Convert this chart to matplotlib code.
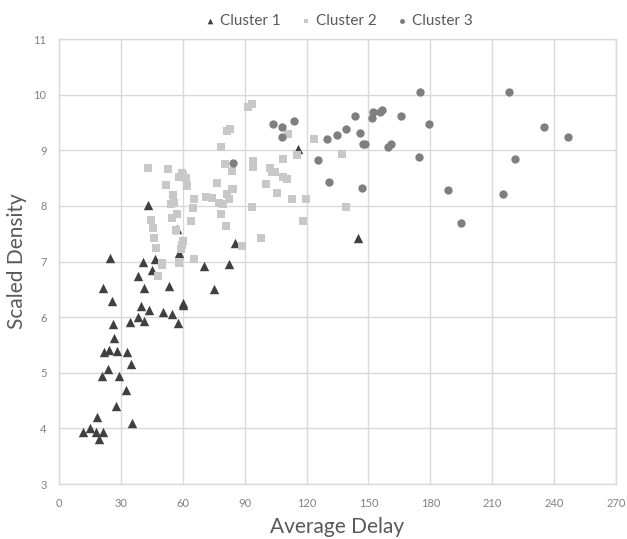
import numpy as np
import matplotlib
matplotlib.use('Agg')
import matplotlib.pyplot as plt

plt.rcParams['font.family'] = ['Lato', 'DejaVu Sans']

# cluster 1 (triangles)
c1_x = [24.7, 21.2, 25.5, 26.0, 26.8, 22.0, 24.4, 28.0, 32.8, 34.9, 23.6, 21.0, 29.1,
        32.5, 27.5, 18.3, 15.0, 11.8, 17.9, 21.2, 19.5, 35.2, 34.4, 38.1, 41.2, 39.9,
        43.6, 41.2, 38.4, 40.9, 44.9, 46.7, 43.3, 53.5, 50.6, 54.6, 60.0, 60.0, 57.5,
        58.3, 57.0, 70.5, 82.6, 75.3, 85.5, 116.0, 145.1]
c1_y = [7.06, 6.52, 6.29, 5.87, 5.62, 5.37, 5.41, 5.39, 5.38, 5.15, 5.06, 4.94, 4.95,
        4.69, 4.41, 4.20, 4.00, 3.93, 3.94, 3.93, 3.81, 4.09, 5.92, 6.00, 5.93, 6.20,
        6.12, 6.52, 6.74, 6.99, 6.85, 7.05, 8.01, 6.56, 6.09, 6.05, 6.26, 6.22, 5.90,
        7.16, 7.58, 6.92, 6.95, 6.50, 7.34, 9.03, 7.43]

# cluster 2 (squares)
c2_x = [43.3, 52.8, 59.5, 58.3, 61.6, 60.0, 51.7, 61.9, 76.4, 55.1, 55.9, 54.3, 65.6,
        65.1, 71.3, 74.0, 81.3, 84.0, 82.4, 77.7, 79.6, 78.5, 80.8, 57.0, 54.6, 64.0,
        44.6, 45.7, 56.7, 46.0, 60.3, 59.6, 59.0, 47.0, 50.1, 50.1, 58.2, 65.6, 47.8,
        88.7, 80.5, 84.0, 91.8, 93.7, 81.6, 82.9, 111.2, 123.6, 108.4, 115.2, 94.2,
        94.2, 102.3, 104.7, 103.1, 108.7, 110.4, 100.2, 137.0, 84.2, 105.8, 112.8,
        119.6, 93.7, 139.0, 118.4, 97.9, 78.5]
c2_y = [8.69, 8.66, 8.60, 8.52, 8.51, 8.55, 8.38, 8.36, 8.42, 8.19, 8.06, 8.03, 8.12,
        7.97, 8.16, 8.15, 8.22, 8.30, 8.13, 8.05, 8.03, 7.85, 7.64, 7.85, 7.79, 7.73,
        7.74, 7.61, 7.56, 7.43, 7.37, 7.30, 7.23, 7.25, 6.98, 6.93, 6.98, 7.04, 6.74,
        7.28, 8.76, 8.63, 9.78, 9.84, 9.35, 9.38, 9.30, 9.20, 8.84, 8.91, 8.81, 8.70,
        8.69, 8.61, 8.61, 8.52, 8.49, 8.39, 8.93, 8.31, 8.24, 8.12, 8.12, 7.98, 7.98,
        7.73, 7.43, 9.05]

# cluster 3 (circles)
c3_x = [103.9, 107.9, 114.1, 107.9, 84.2, 125.4, 129.8, 134.9, 139.0, 143.5, 145.9,
        147.2, 148.3, 151.6, 152.0, 155.6, 156.7, 159.6, 160.8, 165.6, 175.0, 174.7,
        130.9, 146.7, 179.4, 188.4, 194.7, 218.3, 235.2, 246.9, 221.0, 215.1]
c3_y = [9.48, 9.42, 9.53, 9.23, 8.78, 8.82, 9.20, 9.27, 9.39, 9.62, 9.31, 9.12, 9.12,
        9.58, 9.69, 9.69, 9.72, 9.06, 9.12, 9.62, 10.05, 8.88, 8.43, 8.33, 9.47, 8.28,
        7.70, 10.04, 9.42, 9.23, 8.85, 8.22]

fig = plt.figure(figsize=(6.27, 5.39), dpi=100)
ax = fig.add_axes([0.0941, 0.102, 0.8884, 0.8256])

ax.scatter(c1_x, c1_y, marker='^', s=46, color='#404040', label='Cluster 1', zorder=3, linewidths=0)
ax.scatter(c2_x, c2_y, marker='s', s=32, color='#c8c8c8', label='Cluster 2', zorder=3, linewidths=0)
ax.scatter(c3_x, c3_y, marker='o', s=36, color='#7f7f7f', label='Cluster 3', zorder=3, linewidths=0)

ax.set_xlim(0, 270)
ax.set_ylim(3, 11)
ax.set_xticks(np.arange(0, 271, 30))
ax.set_yticks(np.arange(3, 12, 1))
ax.grid(True, color='#d9d9d9', linewidth=1)
ax.set_axisbelow(True)
for s in ax.spines.values():
    s.set_color('#d9d9d9')
    s.set_linewidth(1)
ax.tick_params(length=0, labelsize=8, labelcolor='#808080')
ax.tick_params(axis='y', pad=9)
ax.tick_params(axis='x', pad=10)

ax.set_xlabel('Average Delay', fontsize=15, color='#595959', labelpad=5.5)
ax.set_ylabel('Scaled Density', fontsize=15, color='#595959', labelpad=5)

ax.legend(loc='center', bbox_to_anchor=(0.5, 1.04), ncol=3, frameon=False,
          fontsize=11, labelcolor='#595959', handletextpad=0.2, columnspacing=1.1,
          handlelength=1.0, markerscale=0.6)

fig.savefig('out.png', dpi=100)
